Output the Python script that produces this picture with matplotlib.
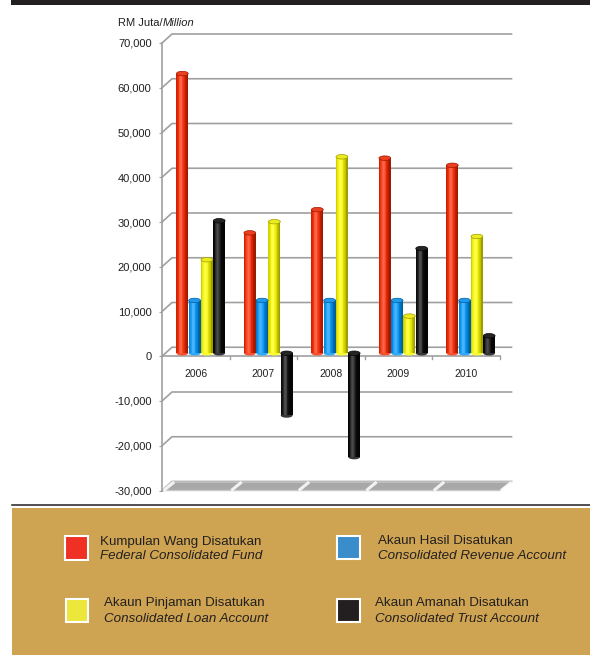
import numpy as np
import matplotlib
matplotlib.use("Agg")
import matplotlib.pyplot as plt
from matplotlib.patches import Rectangle, Ellipse, Polygon
from matplotlib.lines import Line2D
from matplotlib.transforms import ScaledTranslation, IdentityTransform

plt.rcParams['font.family'] = ['Liberation Sans', 'DejaVu Sans']

# ---------------- data ----------------
years = ["2006", "2007", "2008", "2009", "2010"]
federal_fund = [62500, 26900, 32100, 43600, 42000]
revenue_account = [11800, 11800, 11800, 11800, 11800]
loan_account = [20900, 29400, 43900, 8300, 26100]
trust_account = [29600, -13900, -23200, 23400, 3900]
y_ticks = [-30000, -20000, -10000, 0, 10000, 20000, 30000, 40000, 50000, 60000, 70000]
y_tick_labels = ["-30,000", "-20,000", "-10,000", "0", "10,000", "20,000",
                 "30,000", "40,000", "50,000", "60,000", "70,000"]
legend_malay = ["Kumpulan Wang Disatukan", "Akaun Hasil Disatukan",
                "Akaun Pinjaman Disatukan", "Akaun Amanah Disatukan"]
legend_english = ["Federal Consolidated Fund", "Consolidated Revenue Account",
                  "Consolidated Loan Account", "Consolidated Trust Account"]

series = [federal_fund, revenue_account, loan_account, trust_account]
bar_colors = [(1.0, 0.16, 0.0), (0.0, 0.6, 1.0), (1.0, 1.0, 0.0), (0.03, 0.03, 0.03)]
legend_colors = ["#EE3124", "#3A8DCB", "#EBE73B", "#231F20"]

W, H = 590, 655
fig = plt.figure(figsize=(W / 100, H / 100), dpi=100)
fig.patch.set_facecolor("white")

def fx(px):
    return px / W

def fy(py):
    return 1 - py / H

# top black band
fig.add_artist(Rectangle((fx(11), fy(5)), fx(590) - fx(11), 5 / H,
                         transform=fig.transFigure, facecolor="#231F20", edgecolor="none"))

# ---------------- axes ----------------
ax = fig.add_axes([fx(162), (H - 490.5) / H, 337.5 / W, 447.5 / H])
ax.set_xlim(-0.5, 4.5)
ax.set_ylim(-30000, 70000)
ax.patch.set_alpha(0)
for s in ["top", "right", "bottom"]:
    ax.spines[s].set_visible(False)
ax.spines["left"].set_color("#A0A0A0")
ax.spines["left"].set_linewidth(1.2)
ax.set_xticks([])
ax.set_yticks(y_ticks)
ax.set_yticklabels(y_tick_labels, fontsize=8, color="#231F20")
ax.tick_params(axis="y", length=2.5, color="#A0A0A0", pad=5)

gray = "#A0A0A0"
BDX, BDY = 10, 9  # back wall offset in px
units_per_px = (70000 - (-30000)) / 447.5

# back wall gridlines with slanted connectors
for v in y_ticks:
    x0, y0 = ax.transData.transform((-0.5, v))
    x1, _ = ax.transData.transform((4.5, v))
    ln = Line2D([x0, x0 + BDX, x1 + BDX + 2], [y0, y0 + BDY, y0 + BDY],
                transform=IdentityTransform(), color=gray, lw=1.2, zorder=1)
    ax.add_line(ln)
    ln.set_clip_on(False)

# floor slab at the minimum
fxl, fyb = ax.transData.transform((-0.5, -30000))
fxr, _ = ax.transData.transform((4.5, -30000))
floor = Polygon([[fxl, fyb], [fxr, fyb], [fxr + BDX + 2, fyb + 8.5], [fxl + BDX, fyb + 8.5]],
                closed=True, transform=IdentityTransform(), facecolor="#A8A8A8",
                edgecolor="#C8C8C8", lw=1.0, zorder=2)
ax.add_patch(floor)
floor.set_clip_on(False)
for k in range(6):
    bx, _ = ax.transData.transform((-0.5 + k, -30000))
    st = Line2D([bx + 3, bx + 11], [fyb + 1, fyb + 7.5], transform=IdentityTransform(),
                color="white", lw=2.2, alpha=0.85, zorder=3)
    ax.add_line(st)
    st.set_clip_on(False)

# front category axis at zero
zx0, zy0 = ax.transData.transform((-0.5, 0))
zx1, _ = ax.transData.transform((4.5, 0))
front = Line2D([zx0, zx1], [zy0, zy0], transform=IdentityTransform(), color=gray, lw=1.2, zorder=3)
ax.add_line(front)
front.set_clip_on(False)
for k in range(1, 6):
    tx, _ = ax.transData.transform((-0.5 + k, 0))
    tk = Line2D([tx, tx], [zy0, zy0 - 3], transform=IdentityTransform(), color=gray, lw=1.0, zorder=3)
    ax.add_line(tk)
    tk.set_clip_on(False)

# category labels
lab_tr = ax.transData + ScaledTranslation(0, -18 / 100, fig.dpi_scale_trans)
for i, yr in enumerate(years):
    ax.text(i, 0, yr, transform=lab_tr, ha="center", va="center", fontsize=7.5, color="#231F20")

# ---------------- cylinder bars ----------------
bar_tr = ax.transData + ScaledTranslation(5 / 100, 3 / 100, fig.dpi_scale_trans)
bw = 0.175
spacing = 0.182
offsets = [-1.5 * spacing, -0.5 * spacing, 0.5 * spacing, 1.5 * spacing]
nslice = 16
cap_h = 4.5 * units_per_px

def shade(c, t):
    c = np.array(c)
    k = max(0.0, np.cos(np.pi * (t - 0.38) * 0.95))
    col = c * (0.62 + 0.38 * k) + (1 - c) * 0.28 * k ** 6
    return tuple(np.clip(col, 0, 1))

xs = np.arange(len(years))
for s, vals in enumerate(series):
    c = bar_colors[s]
    vals = np.array(vals, dtype=float)
    centers = xs + offsets[s]
    # bottom rounding
    for cx, v in zip(centers, vals):
        bottom = min(0, v)
        e = Ellipse((cx, bottom), bw, cap_h, transform=bar_tr, facecolor=shade(c, 0.5),
                    edgecolor="none", zorder=4)
        ax.add_patch(e)
        e.set_clip_on(False)
    for k in range(nslice):
        t = (k + 0.5) / nslice
        bars = ax.bar(centers - bw / 2 + t * bw, vals, width=bw / nslice * 1.08,
                      color=shade(c, t), linewidth=0, transform=bar_tr, zorder=5)
        for b in bars:
            b.set_clip_on(False)
    # top caps
    for cx, v in zip(centers, vals):
        top = max(0, v)
        capc = tuple(np.clip(np.array(c) * 0.92 + (1 - np.array(c)) * 0.12, 0, 1))
        e = Ellipse((cx, top), bw, cap_h, transform=bar_tr, facecolor=capc,
                    edgecolor=shade(c, 0.95), lw=0.5, zorder=6)
        ax.add_patch(e)
        e.set_clip_on(False)

# unit label
renderer = fig.canvas.get_renderer()
t1 = fig.text(fx(118), fy(23), "RM Juta/", fontsize=8, color="#231F20", va="center", ha="left")
bb = t1.get_window_extent(renderer=renderer)
fig.text(bb.x1 / W, fy(23), "Million", fontsize=8, style="italic", color="#231F20",
         va="center", ha="left")

# ---------------- legend panel ----------------
fig.add_artist(Line2D([fx(12), fx(590)], [fy(505), fy(505)], transform=fig.transFigure,
                      color="#231F20", lw=1.1))
fig.add_artist(Rectangle((fx(12), 0), fx(590) - fx(12), fy(508.3), transform=fig.transFigure,
                         facecolor="#CEA452", edgecolor="none"))

squares = [(64.3, 535, 88.7, 561), (336, 535, 360.7, 560),
           (65, 598.3, 89.3, 623.3), (336, 598.3, 360.7, 623.3)]
text_pos = [(100, 541.7, 556), (377.7, 540.7, 556), (104.3, 603.3, 619), (375, 602.5, 619)]
for i in range(4):
    x0, y0, x1, y1 = squares[i]
    fig.add_artist(Rectangle((fx(x0 + 1), fy(y1 - 1)), (x1 - x0 - 2) / W, (y1 - y0 - 2) / H,
                             transform=fig.transFigure, facecolor=legend_colors[i],
                             edgecolor="white", lw=1.5))
    tx, ty1, ty2 = text_pos[i]
    fig.text(fx(tx), fy(ty1), legend_malay[i], fontsize=9.6, color="#231F20",
             va="center", ha="left")
    fig.text(fx(tx), fy(ty2), legend_english[i], fontsize=9.6, style="italic",
             color="#231F20", va="center", ha="left")

fig.savefig("out.png", dpi=100)
